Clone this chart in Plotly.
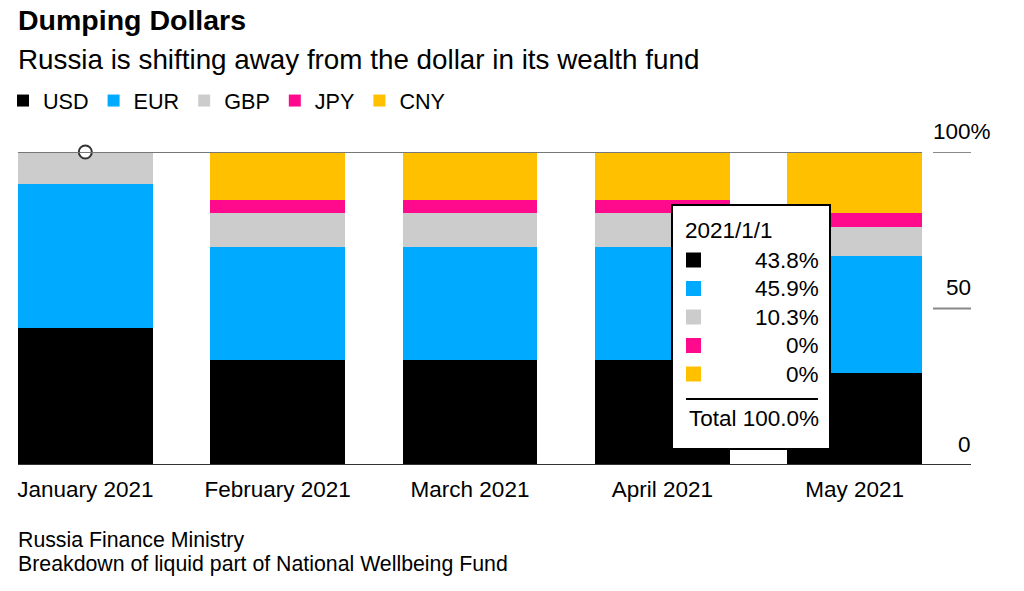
import plotly.graph_objects as go

# ---------------- data ----------------
months = ["January 2021", "February 2021", "March 2021", "April 2021", "May 2021"]
usd = [43.8, 33.7, 33.7, 33.7, 29.5]
eur = [45.9, 36.0, 36.0, 36.0, 37.2]
gbp = [10.3, 10.7, 10.7, 10.7, 9.4]
jpy = [0.0, 4.3, 4.3, 4.3, 4.3]
cny = [0.0, 15.3, 15.3, 15.3, 19.6]

series_names = ["USD", "EUR", "GBP", "JPY", "CNY"]
series_colors = ["#000000", "#00aaff", "#cccccc", "#ff0a8c", "#ffc000"]
series_values = [usd, eur, gbp, jpy, cny]

ytick_vals = [0, 50, 100]
ytick_text = ["0", "50", "100%"]

hover_index = 0
hover_date = "2021/1/1"

title = "Dumping Dollars"
subtitle = "Russia is shifting away from the dollar in its wealth fund"
source_lines = ["Russia Finance Ministry", "Breakdown of liquid part of National Wellbeing Fund"]

# ---------------- layout geometry ----------------
W, H = 1024, 591
L, R, T, B = 18, 922, 152, 465
FONT = "Liberation Sans, Arial, Helvetica, sans-serif"


def px_x(px):
    return (px - L) / (R - L)


def px_y(py):
    return (B - py) / (B - T)


fig = go.Figure()
for name, color, vals in zip(series_names, series_colors, series_values):
    fig.add_trace(go.Bar(
        x=months, y=vals, name=name,
        marker=dict(color=color, line=dict(width=0)),
        hoverinfo="skip",
    ))

# hover point marker on top of the hovered bar
fig.add_trace(go.Scatter(
    x=[months[hover_index]], y=[sum(v[hover_index] for v in series_values)],
    mode="markers", showlegend=False, cliponaxis=False,
    marker=dict(size=13, color="white", line=dict(color="#333333", width=2)),
    hoverinfo="skip",
))

shapes = []
annotations = []

# top gridline (100%)
shapes.append(dict(type="line", xref="paper", yref="y", x0=0, x1=1,
                   y0=ytick_vals[-1], y1=ytick_vals[-1],
                   line=dict(color="#777777", width=2), layer="above"))
# baseline
shapes.append(dict(type="line", xref="paper", yref="y", x0=0, x1=px_x(971),
                   y0=ytick_vals[0], y1=ytick_vals[0],
                   line=dict(color="#333333", width=2), layer="above"))
# right-hand tick marks and labels
for v, t in zip(ytick_vals, ytick_text):
    if v != ytick_vals[0]:
        shapes.append(dict(type="line", xref="paper", yref="y",
                           x0=px_x(933), x1=px_x(971), y0=v, y1=v,
                           line=dict(color="#888888", width=2)))
    right_edge = 973 + (20 if t.endswith("%") else 0)
    annotations.append(dict(xref="paper", yref="y", x=px_x(right_edge), y=v,
                            yshift=21, xanchor="right", yanchor="middle",
                            text=t, showarrow=False,
                            font=dict(family=FONT, size=22.5, color="#000000")))

# titles
annotations.append(dict(xref="paper", yref="paper", x=px_x(16), y=px_y(20),
                        xanchor="left", yanchor="middle", showarrow=False,
                        text="<b>" + title + "</b>",
                        font=dict(family=FONT, size=28.5, color="#000000")))
annotations.append(dict(xref="paper", yref="paper", x=px_x(16), y=px_y(60),
                        xanchor="left", yanchor="middle", showarrow=False,
                        text=subtitle,
                        font=dict(family=FONT, size=27.8, color="#000000")))
# source lines
for i, s in enumerate(source_lines):
    annotations.append(dict(xref="paper", yref="paper", x=px_x(16), y=px_y(540 + 24 * i),
                            xanchor="left", yanchor="middle", showarrow=False,
                            text=s, font=dict(family=FONT, size=21.3, color="#000000")))

# tooltip box
TT = 22.5
box_l, box_r, box_t, box_b = 672, 830, 205, 449
shapes.append(dict(type="rect", xref="paper", yref="paper",
                   x0=px_x(box_l), x1=px_x(box_r), y0=px_y(box_b), y1=px_y(box_t),
                   fillcolor="white", line=dict(color="#000000", width=2), layer="above"))
annotations.append(dict(xref="paper", yref="paper", x=px_x(683), y=px_y(230),
                        xanchor="left", yanchor="middle", showarrow=False,
                        text=hover_date, font=dict(family=FONT, size=TT, color="#000000")))
row_y0, row_step = 260, 28.5
for i, (name, color, vals) in enumerate(zip(series_names, series_colors, series_values)):
    cy = row_y0 + row_step * i
    shapes.append(dict(type="rect", xref="paper", yref="paper",
                       x0=px_x(686), x1=px_x(701), y0=px_y(cy + 7.5), y1=px_y(cy - 7.5),
                       fillcolor=color, line=dict(width=0), layer="above"))
    annotations.append(dict(xref="paper", yref="paper", x=px_x(821), y=px_y(cy),
                            xanchor="right", yanchor="middle", showarrow=False,
                            text=f"{vals[hover_index]:g}%",
                            font=dict(family=FONT, size=TT, color="#000000")))
shapes.append(dict(type="line", xref="paper", yref="paper",
                   x0=px_x(686), x1=px_x(818), y0=px_y(399), y1=px_y(399),
                   line=dict(color="#000000", width=2), layer="above"))
total = sum(v[hover_index] for v in series_values)
annotations.append(dict(xref="paper", yref="paper", x=px_x(821), y=px_y(418),
                        xanchor="right", yanchor="middle", showarrow=False,
                        text=f"Total {total:.1f}%", font=dict(family=FONT, size=TT, color="#000000")))

fig.update_layout(
    width=W, height=H,
    margin=dict(l=L, r=W - R, t=T, b=H - B, pad=0, autoexpand=False),
    barmode="stack", bargap=0.30,
    paper_bgcolor="white", plot_bgcolor="white",
    font=dict(family=FONT, size=22, color="#000000"),
    showlegend=True,
    legend=dict(orientation="h", x=px_x(3), y=px_y(101), xanchor="left", yanchor="middle",
                font=dict(family=FONT, size=21.6, color="#000000"),
                bgcolor="rgba(0,0,0,0)", borderwidth=0, traceorder="normal",
                itemclick=False, itemdoubleclick=False),
    xaxis=dict(range=[-0.35, len(months) - 0.65], showgrid=False, zeroline=False,
               showline=False, ticks="", ticklabelstandoff=8,
               tickfont=dict(family=FONT, size=22.5, color="#000000"),
               fixedrange=True),
    yaxis=dict(range=[0, 100], showgrid=False, zeroline=False, showline=False,
               showticklabels=False, ticks="", fixedrange=True),
    shapes=shapes,
    annotations=annotations,
    hovermode=False,
)

fig.write_html("out.html", config={"displayModeBar": False})
